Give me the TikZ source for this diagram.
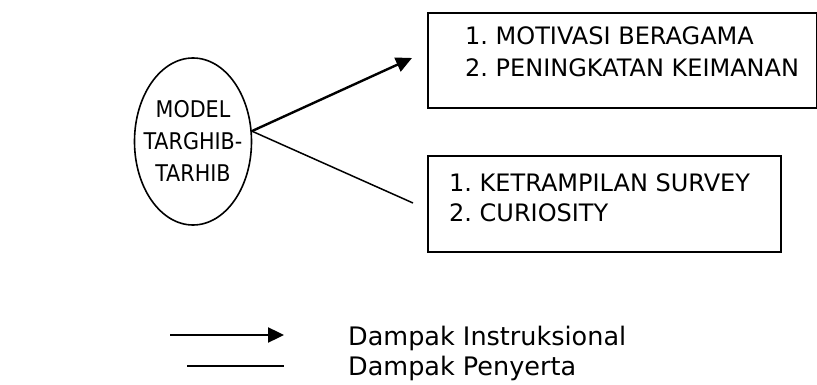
\documentclass[tikz,border=0pt]{standalone}
\usepackage{fontspec}
\setmainfont{DejaVu Sans}
\newfontfamily\ellfont{DejaVu Sans Condensed}
\usetikzlibrary{arrows.meta,shapes.geometric}
\tikzset{
  lbl/.style={anchor=base west,inner sep=0pt,font=\fontsize{24}{28}\selectfont\frenchspacing},
  leg/.style={anchor=base west,inner sep=0pt,font=\fontsize{25.5}{29}\selectfont\frenchspacing},
  clbl/.style={anchor=base,inner sep=0pt,font=\ellfont\fontsize{23}{27}\selectfont},
  box/.style={draw,line width=1.8pt,rectangle,anchor=north west,inner sep=0pt},
  instr/.style={line width=2.4pt,-{Triangle[length=16pt,width=15pt]}},
  peny/.style={line width=1.5pt},
}
\begin{document}
\begin{tikzpicture}[x=1pt,y=-1pt]
\useasboundingbox (0,0) rectangle (817,385);
% ellipse
\node[draw,ellipse,line width=1.6pt,minimum width=117pt,minimum height=167pt,inner sep=0pt] (ell) at (193,141.5) {};
\node[clbl] (t1) at (193,118) {MODEL};
\node[clbl] (t2) at (193,150) {TARGHIB-};
\node[clbl] (t3) at (193,182) {TARHIB};
% boxes
\node[box,minimum width=389pt,minimum height=95pt] (b1) at (427,12) {};
\node[box,minimum width=353pt,minimum height=96pt] (b2) at (427,155) {};
\node[lbl] (b1a) at (465,45) {1. MOTIVASI BERAGAMA};
\node[lbl] (b1b) at (465,77) {2. PENINGKATAN KEIMANAN};
\node[lbl] (b2a) at (449,192) {1. KETRAMPILAN SURVEY};
\node[lbl] (b2b) at (449,222) {2. CURIOSITY};
% connectors
\coordinate (tipA) at (412,58);
\coordinate (endB) at (413,203);
\draw[instr] (ell.10) -- (tipA);
\draw[peny] (ell.10) -- (endB);
% legend
\coordinate (la1) at (170,335);
\coordinate (la2) at (284,335);
\coordinate (lb1) at (187,366);
\coordinate (lb2) at (284,366);
\draw[instr] (la1) -- (la2);
\draw[peny] (lb1) -- (lb2);
\node[leg] (l1) at (348,345) {Dampak Instruksional};
\node[leg] (l2) at (348,375) {Dampak Penyerta};
\end{tikzpicture}
\end{document}
